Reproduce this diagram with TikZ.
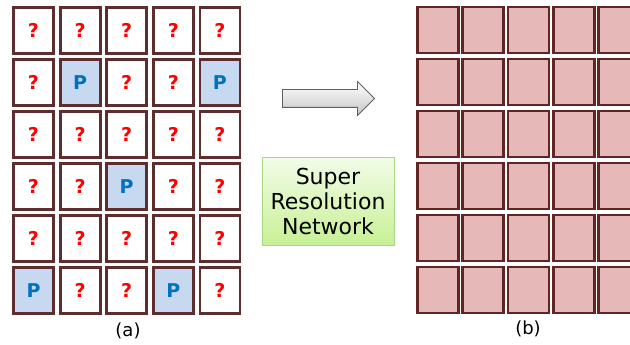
\documentclass[tikz,border=0pt]{standalone}
\usepackage{fontspec}
\setmainfont{DejaVu Sans}
\usepackage{xcolor}
\usetikzlibrary{shapes.arrows}

\definecolor{lrborder}{HTML}{5E2D2D}
\definecolor{hrborder}{HTML}{632523}
\definecolor{hrfill}{HTML}{E6B8B7}
\definecolor{qred}{HTML}{FF0000}
\definecolor{pblue}{HTML}{0070C0}
\definecolor{pfill}{HTML}{C6D9F1}
\definecolor{nettop}{HTML}{F2FCE8}
\definecolor{netbot}{HTML}{C8F095}
\definecolor{netborder}{HTML}{A6D884}

\begin{document}
\begin{tikzpicture}[
    x=1pt, y=-1pt,
    every node/.style={font=\fontsize{18}{20}\selectfont},
    cell/.style={draw=lrborder, line width=2.8pt, inner sep=0pt,
                 minimum width=40pt, minimum height=46pt,
                 font=\fontsize{19}{22}\selectfont\bfseries},
    qcell/.style={cell, fill=white, text=qred, node contents={?}},
    pcell/.style={cell, fill=pfill, text=pblue, node contents={P}},
    hrcell/.style={cell, draw=hrborder, fill=hrfill, minimum width=41pt},
    bigarrow/.style={single arrow, draw=gray!75!black, line width=0.8pt,
                     top color=white, bottom color=gray!45,
                     minimum height=92pt, minimum width=33pt,
                     single arrow head extend=8pt, inner xsep=0pt, inner ysep=8.5pt},
    netbox/.style={draw=netborder, line width=0.8pt, top color=nettop,
                   bottom color=netbot, minimum width=132pt, minimum height=88pt,
                   align=center, font=\fontsize{22}{25}\selectfont},
  ]
  \useasboundingbox (0,0) rectangle (630,345);
  %% ---- Low resolution grid (a) ----
  \foreach \row [count=\r] in {{q,q,q,q,q},{q,p,q,q,p},{q,q,q,q,q},
                               {q,q,p,q,q},{q,q,q,q,q},{p,q,q,p,q}}
    \foreach \k [count=\c] in \row
      \node (lr-\r-\c) at ({33.5+46.6*(\c-1)}, {30.5+52*(\r-1)}) [\k cell];
  \node (lbla) at (128,331) {(a)};
  %% ---- High resolution grid (b) ----
  \foreach \r in {1,...,6}
    \foreach \c in {1,...,5}
      \node[hrcell] (hr-\r-\c) at ({438+45.2*(\c-1)}, {30+52*(\r-1)}) {};
  \node (lblb) at (528,329) {(b)};
  %% ---- Arrow and network ----
  \node[bigarrow] (arr) at (324,98.5) {};
  \node[netbox] (srnet) at (328,201) {Super\\Resolution\\Network};
\end{tikzpicture}
\end{document}
